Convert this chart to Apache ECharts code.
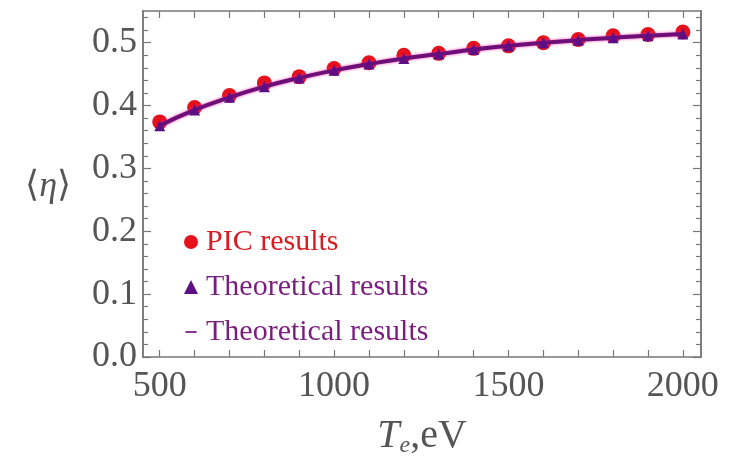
<!DOCTYPE html>
<html><head><meta charset="utf-8">
<script src="https://cdn.jsdelivr.net/npm/echarts@6/dist/echarts.min.js"></script>
<style>html,body{margin:0;padding:0;background:#fff}#c{width:730px;height:456px}</style>
</head><body><div id="c"></div>
<script>
// ---- data ----
const temps = [500, 600, 700, 800, 900, 1000, 1100, 1200, 1300, 1400, 1500, 1600, 1700, 1800, 1900, 2000];
const picResults = [0.374, 0.397, 0.416, 0.436, 0.446, 0.459, 0.468, 0.480, 0.483, 0.491, 0.495, 0.500, 0.505, 0.511, 0.513, 0.517];
const theoryResults = [0.368, 0.393, 0.413, 0.430, 0.444, 0.456, 0.466, 0.475, 0.482, 0.489, 0.495, 0.500, 0.504, 0.508, 0.511, 0.514];
const xTickValues = [500, 600, 700, 800, 900, 1000, 1100, 1200, 1300, 1400, 1500, 1600, 1700, 1800, 1900, 2000];
const xLabelValues = [500, 1000, 1500, 2000];
const yLabelValues = [0.0, 0.1, 0.2, 0.3, 0.4, 0.5];
const yMinorTickValues = [0.02, 0.04, 0.06, 0.08, 0.12, 0.14, 0.16, 0.18, 0.22, 0.24, 0.26, 0.28, 0.32, 0.34, 0.36, 0.38, 0.42, 0.44, 0.46, 0.48, 0.52, 0.54];

const SERIF = "'Liberation Serif', 'Times New Roman', serif";
const AX = '#777';
const LBL = '#555';

const chart = echarts.init(document.getElementById('c'), null, {renderer: 'canvas'});

function xAxisDef(pos, labels) {
  return {
    type: 'value', position: pos, min: 452, max: 2052,
    axisLine: {show: true, onZero: false, lineStyle: {color: AX, width: 1.5}},
    axisTick: {show: true, inside: true, length: 7, customValues: xTickValues, lineStyle: {color: AX, width: 1.2}},
    axisLabel: labels ? {show: true, customValues: xLabelValues, fontFamily: SERIF, fontSize: 36, color: LBL, margin: 12,
      formatter: v => String(v)} : {show: false},
    splitLine: {show: false}
  };
}
function yAxisDef(pos, major, labels) {
  return {
    type: 'value', position: pos, min: 0, max: 0.5504,
    axisLine: {show: true, onZero: false, lineStyle: {color: AX, width: 1.5}},
    axisTick: {show: true, inside: true, length: major ? 8 : 5, customValues: major ? yLabelValues : yMinorTickValues, lineStyle: {color: AX, width: 1.2}},
    axisLabel: labels ? {show: true, customValues: yLabelValues, fontFamily: SERIF, fontSize: 36, color: LBL, margin: 6,
      formatter: v => v.toFixed(1)} : {show: false},
    splitLine: {show: false}
  };
}

const xBottom = xAxisDef('bottom', true);
xBottom.name = '{it|T}{sub|e}{rm|,eV}';
xBottom.nameLocation = 'middle';
xBottom.nameGap = 57;
xBottom.nameTextStyle = {
  rich: {
    it: {fontFamily: SERIF, fontStyle: 'italic', fontSize: 40, color: LBL},
    sub: {fontFamily: SERIF, fontStyle: 'italic', fontSize: 24, color: LBL, padding: [20, 0, 0, 0]},
    rm: {fontFamily: SERIF, fontSize: 40, color: LBL}
  }
};

const yLeft = yAxisDef('left', true, true);
yLeft.name = '⟨{it|η}⟩';
yLeft.nameLocation = 'middle';
yLeft.nameRotate = 0;
yLeft.nameGap = 72;
yLeft.nameTextStyle = {fontFamily: SERIF, fontSize: 36, color: LBL, padding: [6, 0, 0, 0],
  rich: {it: {fontFamily: SERIF, fontStyle: 'italic', fontSize: 36, color: LBL}}};

const option = {
  animation: false,
  backgroundColor: '#fff',
  grid: {left: 143, right: 29, top: 11, bottom: 99, containLabel: false, outerBoundsMode: 'none'},
  xAxis: [xBottom, xAxisDef('top', false)],
  yAxis: [yLeft, yAxisDef('left', false, false), yAxisDef('right', true, false), yAxisDef('right', false, false)],
  legend: {
    orient: 'vertical', left: 184, top: 227, padding: 0,
    itemWidth: 14, itemHeight: 14, itemGap: 15,
    textStyle: {fontFamily: SERIF, fontSize: 30, lineHeight: 28, padding: [0, 0, 0, 3]},
    formatter: name => name === 'Theoretical curve' ? 'Theoretical results' : name,
    selectedMode: false,
    data: [
      {name: 'PIC results', icon: 'circle', textStyle: {color: '#d81c22'}},
      {name: 'Theoretical results', icon: 'triangle', textStyle: {color: '#7a1e7e'}},
      {name: 'Theoretical curve', icon: 'path://M0,0M10,10M1,4.4L9,4.4L9,5.6L1,5.6Z', textStyle: {color: '#7a1e7e'}}
    ]
  },
  series: [
    {
      type: 'scatter', name: 'PIC results', xAxisIndex: 0, yAxisIndex: 0,
      data: temps.map((t, i) => [t, picResults[i]]),
      symbol: 'circle', symbolSize: 15,
      itemStyle: {color: '#e5121c', opacity: 1}, z: 2
    },
    {
      type: 'line', name: 'Theoretical curve', xAxisIndex: 0, yAxisIndex: 0,
      data: temps.map((t, i) => [t, theoryResults[i]]),
      smooth: true, showSymbol: false, symbol: 'none',
      lineStyle: {color: '#6c1078', width: 4, shadowColor: 'rgba(255,40,170,0.9)', shadowBlur: 3},
      itemStyle: {color: '#6c1078'}, z: 3
    },
    {
      type: 'scatter', name: 'Theoretical results', xAxisIndex: 0, yAxisIndex: 0,
      data: temps.map((t, i) => [t, theoryResults[i]]),
      symbol: 'triangle', symbolSize: 11,
      itemStyle: {color: '#5e0f86', opacity: 1}, z: 4
    }
  ]
};
chart.setOption(option);
</script>
</body></html>
